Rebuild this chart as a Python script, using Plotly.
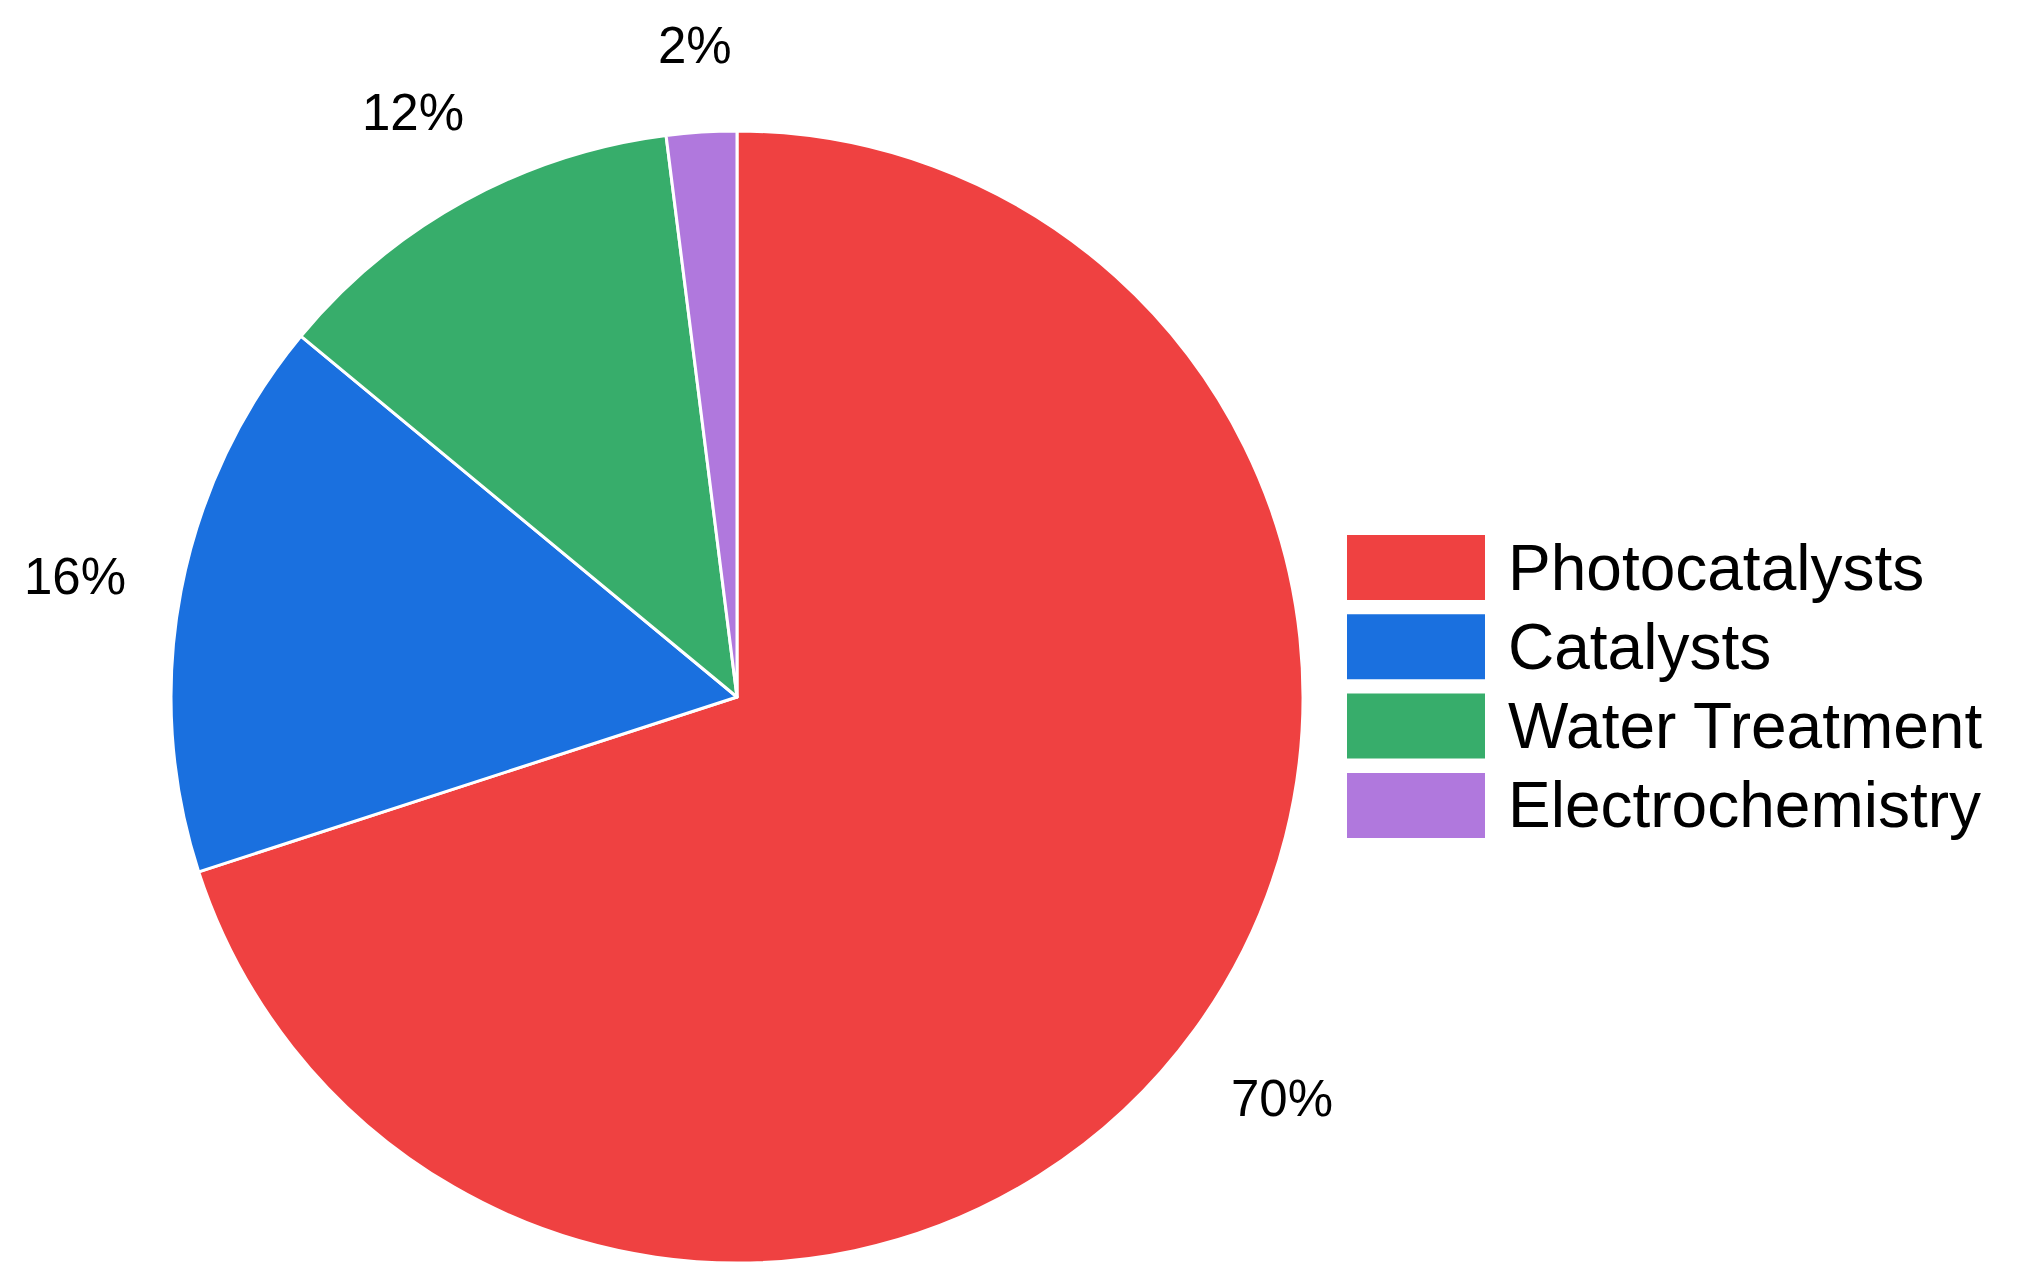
#pie of application areas, legend drawn as big swatches on the right
import math
import plotly.graph_objects as go

labels = ['Photocatalysts', 'Catalysts', 'Water Treatment', 'Electrochemistry']
values = [70, 16, 12, 2]
colors = ['#EF4141', '#1A70DF', '#37AD6B', '#B078DD']

W, H = 2019, 1282
OFF = 8  # page body margin shifts everything by ~8px
FONT = 'Arial, Liberation Sans, sans-serif'

#pie sits at centre (737, 697) px, radius ~566 px
cx, cy, r = 737 - OFF, 697 - OFF, 566

fig = go.Figure(go.Pie(
    labels=labels, values=values, sort=False, direction='clockwise', rotation=0,
    marker=dict(colors=colors, line=dict(color='white', width=3)),
    textinfo='none',
    domain=dict(x=[(cx - r) / W, (cx + r) / W], y=[1 - (cy + r) / H, 1 - (cy - r) / H]),
    showlegend=False,
))

annotations, shapes = [], []

#percent labels sit outside the pie along each slice's mid angle
total = sum(values)
start = 0
for v in values:
    mid = (start + v / 2) / total * 2 * math.pi
    start += v
    lx = cx + 1.19 * r * math.sin(mid)
    ly = cy - 1.19 * r * math.cos(mid) + 6
    ly = max(ly, 45 - OFF)  # keep the top label inside the page
    annotations.append(dict(text='{:.0f}%'.format(100 * v / total), xref='paper', yref='paper',
                            x=lx / W, y=1 - ly / H, xanchor='center', yanchor='middle',
                            showarrow=False, borderpad=0,
                            font=dict(family=FONT, size=51, color='black')))

#legend: swatches + text
sw_x0, sw_x1, sw_h = 1347 - OFF, 1485 - OFF, 65
y_first, step = 567.5 - OFF, 79.3
for i, (lab, col) in enumerate(zip(labels, colors)):
    yc = y_first + i * step
    shapes.append(dict(type='rect', xref='paper', yref='paper',
                       x0=sw_x0 / W, x1=sw_x1 / W,
                       y0=1 - (yc + sw_h / 2) / H, y1=1 - (yc - sw_h / 2) / H,
                       fillcolor=col, line=dict(width=0)))
    annotations.append(dict(text=lab, xref='paper', yref='paper', x=(1508 - OFF - 2) / W, y=1 - yc / H,
                            xanchor='left', yanchor='middle', showarrow=False,
                            font=dict(family=FONT, size=64, color='black')))

fig.update_layout(width=W, height=H, margin=dict(l=0, r=0, t=0, b=0),
                  paper_bgcolor='white', plot_bgcolor='white',
                  shapes=shapes, annotations=annotations)

fig.write_html("out.html")
